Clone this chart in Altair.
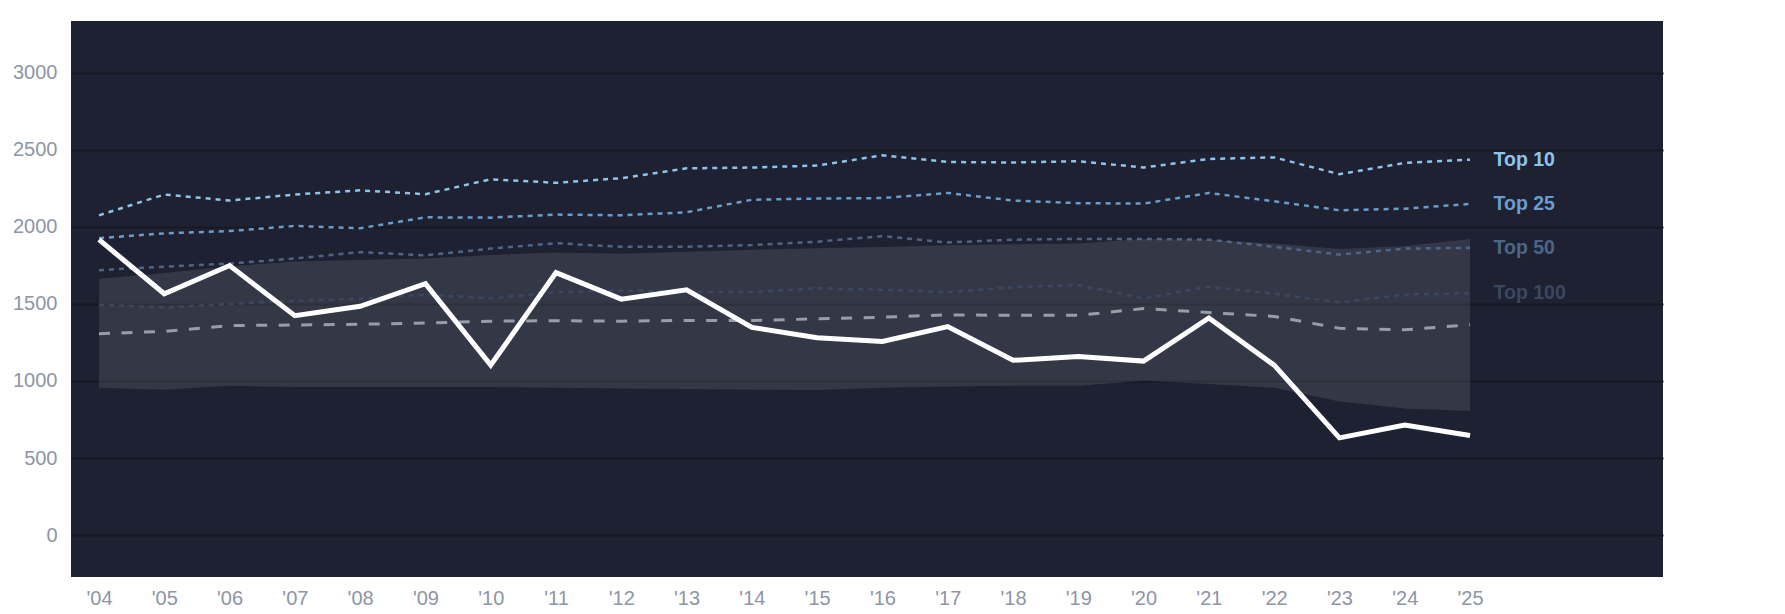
import altair as alt
import pandas as pd

years = list(range(2004, 2026))

main_line = [1917, 1566, 1749, 1424, 1485, 1632, 1103, 1703, 1531, 1592, 1348,
             1281, 1256, 1353, 1134, 1159, 1129, 1409, 1103, 631, 714, 646]
top10 = [2075, 2210, 2171, 2210, 2237, 2212, 2309, 2286, 2316, 2380, 2385,
         2398, 2464, 2421, 2418, 2426, 2385, 2441, 2451, 2342, 2415, 2436]
top25 = [1927, 1958, 1973, 2006, 1991, 2062, 2060, 2080, 2075, 2095, 2176,
         2184, 2187, 2220, 2171, 2154, 2151, 2220, 2166, 2108, 2118, 2149]
top50 = [1719, 1742, 1762, 1795, 1836, 1815, 1859, 1894, 1871, 1871, 1882,
         1904, 1940, 1899, 1917, 1922, 1922, 1917, 1871, 1820, 1859, 1864]
top100 = [1495, 1477, 1500, 1520, 1533, 1561, 1536, 1576, 1587, 1581, 1576,
          1602, 1592, 1576, 1609, 1622, 1536, 1612, 1566, 1510, 1561, 1569]
median_line = [1307, 1322, 1360, 1363, 1368, 1376, 1388, 1391, 1388, 1393, 1393,
               1403, 1414, 1429, 1426, 1426, 1470, 1444, 1419, 1342, 1332, 1365]
band_upper = [1663, 1701, 1744, 1775, 1785, 1795, 1818, 1833, 1826, 1838, 1851,
              1861, 1869, 1881, 1887, 1892, 1922, 1917, 1892, 1856, 1876, 1922]
band_lower = [956, 943, 969, 961, 961, 961, 961, 956, 951, 948, 943,
              941, 956, 964, 969, 969, 1002, 981, 956, 867, 821, 806]

tier_names = ["Top 10", "Top 25", "Top 50", "Top 100"]
tier_values = [top10, top25, top50, top100]
tier_colors = ["#8ec4ec", "#6a9dcc", "#4d6688", "#3b4761"]

y_ticks = [0, 500, 1000, 1500, 2000, 2500, 3000]

FONT = "Liberation Sans"

x_scale = alt.Scale(domain=[2003.571, 2027.956], nice=False, zero=False)
y_scale = alt.Scale(domain=[-272, 3336], nice=False, zero=False)

x_axis = alt.Axis(values=years, labelExpr="\"'\" + substring(toString(datum.value), 2)",
                  grid=False, domain=False, ticks=False, labelPadding=11,
                  labelFontSize=20, labelColor="#8d95a6", labelFont=FONT, title=None)
y_axis = alt.Axis(values=y_ticks, grid=True, gridColor="#161924", gridWidth=2,
                  domain=False, ticks=False, labelPadding=14, labelFontSize=20,
                  labelColor="#8d95a6", labelFont=FONT, title=None, format="d")

band_df = pd.DataFrame({"year": years, "lo": band_lower, "hi": band_upper})
band = alt.Chart(band_df).mark_area(color="#ffffff", opacity=0.1).encode(
    x=alt.X("year:Q", scale=x_scale, axis=x_axis),
    y=alt.Y("lo:Q", scale=y_scale, axis=y_axis),
    y2="hi:Q",
)

med_df = pd.DataFrame({"year": years, "v": median_line})
med = alt.Chart(med_df).mark_line(color="#a3a8b2", strokeWidth=3, strokeDash=[11, 11.5],
                                  opacity=0.9).encode(
    x=alt.X("year:Q", scale=x_scale), y=alt.Y("v:Q", scale=y_scale))

layers = [band, med]
for name, vals, col in reversed(list(zip(tier_names, tier_values, tier_colors))):
    df = pd.DataFrame({"year": years, "v": vals})
    layers.append(alt.Chart(df).mark_line(color=col, strokeWidth=2.5, strokeDash=[5, 5]).encode(
        x=alt.X("year:Q", scale=x_scale), y=alt.Y("v:Q", scale=y_scale)))

main_df = pd.DataFrame({"year": years, "v": main_line})
layers.append(alt.Chart(main_df).mark_line(color="#ffffff", strokeWidth=5).encode(
    x=alt.X("year:Q", scale=x_scale), y=alt.Y("v:Q", scale=y_scale)))

label_df = pd.DataFrame({"year": [years[-1]] * 4, "v": [t[-1] for t in tier_values],
                         "name": tier_names})
labels = alt.Chart(label_df).mark_text(align="left", baseline="middle", dx=23.5,
                                       fontSize=19.5, fontWeight="bold", font=FONT).encode(
    x=alt.X("year:Q", scale=x_scale), y=alt.Y("v:Q", scale=y_scale),
    text="name:N",
    color=alt.Color("name:N", scale=alt.Scale(domain=tier_names, range=tier_colors), legend=None),
)
layers.append(labels)

chart = alt.layer(*layers).properties(
    width=1592, height=556,
    autosize=alt.AutoSizeParams(type="none"),
    padding={"left": 63, "top": 13, "right": 100, "bottom": 30},
    background="#ffffff",
).configure_view(fill="#1e2131", stroke=None)

chart.save("out.html", embed_options={"renderer": "svg", "actions": False})
